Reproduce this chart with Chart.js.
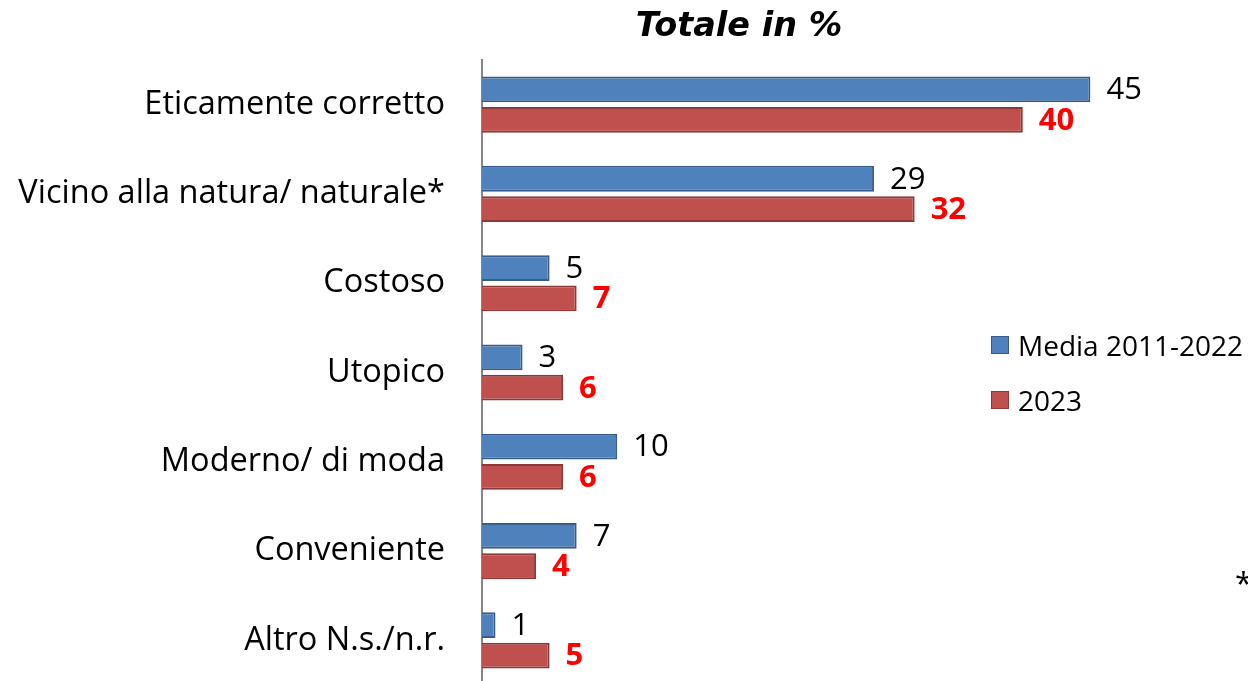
<!DOCTYPE html>
<html>
<head>
<meta charset="utf-8">
<script src="https://cdn.jsdelivr.net/npm/chart.js@4.4.1/dist/chart.umd.min.js"></script>
<style>
  html, body { margin: 0; padding: 0; background: #fff; }
  #wrap { position: relative; width: 1248px; height: 681px; overflow: hidden; }
  #chart { display: block; }
  #title {
    position: absolute; left: 539px; top: 8px; width: 400px; text-align: center;
    font: italic bold 33.5px/34px "DejaVu Sans", sans-serif; color: #000;
  }
  .leg { position: absolute; left: 991px; display: flex; align-items: center;
    font: 28px/30px "Open Sans", sans-serif; color: #000; white-space: nowrap; }
  .leg i { display: inline-block; width: 16px; height: 16px; margin-right: 9px; box-sizing: content-box; }
  #note { position: absolute; left: 1235px; top: 565px; font: 31px/34px "Open Sans", sans-serif; }
</style>
</head>
<body>
<div id="wrap">
  <!-- canvas un po' più alto del riquadro: l'area del grafico esce leggermente in basso come nell'originale -->
  <canvas id="chart" width="1248" height="690"></canvas>
  <div id="title">Totale in %</div>
  <div id="legend"></div>
  <div id="note">*</div>
</div>
<script>
const categories = [
  'Eticamente corretto',
  'Vicino alla natura/ naturale*',
  'Costoso',
  'Utopico',
  'Moderno/ di moda',
  'Conveniente',
  'Altro N.s./n.r.',
];
const seriesNames = ['Media 2011-2022', '2023'];
const media = [45, 29, 5, 3, 10, 7, 1];
const anno2023 = [40, 32, 7, 6, 6, 4, 5];

const fills = ['#4f81bd', '#c0504d'];
const borders = ['#385d8a', '#8c3836'];

// legenda HTML, a destra del grafico
document.getElementById('legend').innerHTML = seriesNames
  .map(
    (name, i) =>
      `<div class="leg" style="top:${330 + i * 55}px"><i style="background:${fills[i]};border:1.5px solid ${borders[i]}"></i>${name}</div>`
  )
  .join('');

// etichette dei valori a destra di ogni barra
const valueLabels = {
  id: 'valueLabels',
  afterDatasetsDraw(chart) {
    const ctx = chart.ctx;
    ctx.save();
    ctx.textAlign = 'left';
    ctx.textBaseline = 'middle';
    chart.data.datasets.forEach((ds, di) => {
      const meta = chart.getDatasetMeta(di);
      ctx.font = di === 1 ? 'bold 31px "Open Sans"' : '31px "Open Sans"';
      ctx.fillStyle = di === 1 ? '#ff0000' : '#000000';
      meta.data.forEach((bar, i) => {
        ctx.fillText(String(ds.data[i]), bar.x + 16, bar.y + 1);
      });
    });
    ctx.restore();
  },
};

function draw() {
  new Chart(document.getElementById('chart'), {
    type: 'bar',
    data: {
      labels: categories,
      datasets: [
        { label: seriesNames[0], data: media, backgroundColor: fills[0], borderColor: borders[0], borderWidth: 2 },
        { label: seriesNames[1], data: anno2023, backgroundColor: fills[1], borderColor: borders[1], borderWidth: 2 },
      ],
    },
    options: {
      indexAxis: 'y',
      responsive: false,
      animation: false,
      categoryPercentage: 0.68,
      barPercentage: 0.85,
      layout: { padding: { top: 60, right: 90, bottom: 5, left: 0 } },
      plugins: { legend: { display: false }, tooltip: { enabled: false } },
      scales: {
        x: { display: false, min: 0, max: 50 },
        y: {
          grid: { display: false, drawTicks: false },
          border: { display: true, color: '#868686', width: 2 },
          ticks: { color: '#000', font: { family: 'Open Sans', size: 32.5 }, padding: 37 },
          afterFit(scale) {
            // larghezza fissa dell'asse e niente margine verticale extra per le etichette
            scale.width = 482;
            scale.paddingTop = 0;
            scale.paddingBottom = 0;
          },
        },
      },
    },
    plugins: [valueLabels],
  });
}

Promise.all([document.fonts.load('31px "Open Sans"'), document.fonts.load('bold 31px "Open Sans"')])
  .catch(() => {})
  .then(draw);
</script>
</body>
</html>
